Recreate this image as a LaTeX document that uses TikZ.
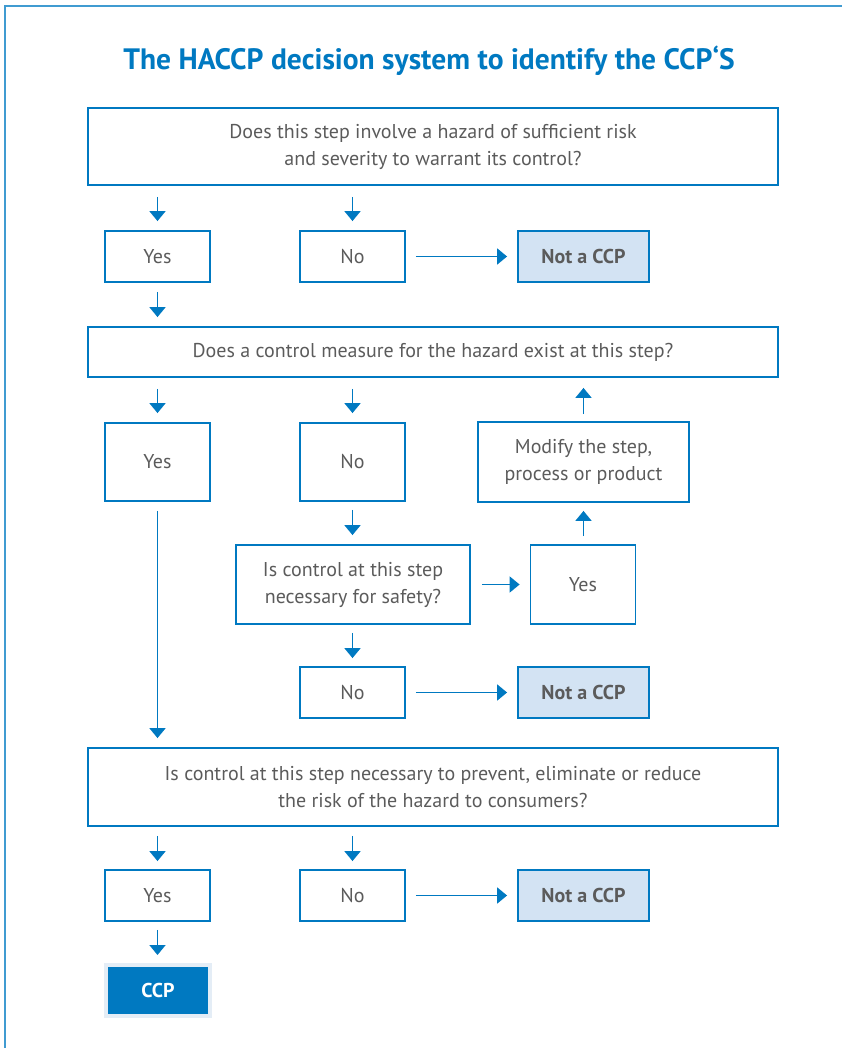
\documentclass[tikz,border=0pt]{standalone}
\usepackage{fontspec}
\setmainfont{PT Sans}
\usetikzlibrary{arrows.meta,positioning,calc}
\definecolor{haccpblue}{HTML}{0079C1}
\definecolor{haccpgray}{HTML}{5B5B5B}
\definecolor{notfill}{HTML}{D3E3F3}
\definecolor{ccpframe}{HTML}{E4EDF6}
\tikzstyle{qbox} = [draw=haccpblue,line width=1.8pt,text=haccpgray,align=center,inner sep=0pt,font=\fontsize{20}{27}\selectfont]
\tikzstyle{ans} = [qbox,minimum width=105pt]
\tikzstyle{notccp} = [qbox,fill=notfill,font=\fontsize{20}{27}\selectfont\bfseries,minimum width=131pt,minimum height=51pt]
\tikzstyle{ccpbox} = [draw=ccpframe,line width=4pt,fill=haccpblue,text=white,font=\fontsize{20}{27}\selectfont\bfseries,minimum width=104pt,minimum height=51pt]
\tikzstyle{flow} = [haccpblue,line width=1.8pt,-{Triangle[width=16pt,length=10pt]}]

\begin{document}
\begin{tikzpicture}[x=1pt,y=-1pt]
    \useasboundingbox (0,0) rectangle (842,1048);
    \draw [haccpblue!75,line width=2pt] (4.5,1048) -- (4.5,6.5) -- (842,6.5);
    \node [text=haccpblue,font=\fontsize{29.5}{34}\selectfont\bfseries] (title) at (429,61) {The HACCP decision system to identify the CCP‘S};

    % first question
    \node [qbox,minimum width=690pt,minimum height=77pt] (q1) at (433,146.5) {Does this step involve a hazard of sufficient risk\\and severity to warrant its control?};
    \node [ans,minimum height=51pt] (yes1) at (157.5,256.5) {Yes};
    \node [ans,minimum height=51pt] (no1) at (352.5,256.5) {No};
    \node [notccp] (not1) at (583.5,256.5) {Not a CCP};
    \draw [flow,shorten <=11pt,shorten >=9pt] (yes1 |- q1.south) -- (yes1.north);
    \draw [flow,shorten <=11pt,shorten >=9pt] (no1 |- q1.south) -- (no1.north);
    \draw [flow,shorten <=10pt,shorten >=10pt] (no1) -- (not1);

    % second question
    \node [qbox,minimum width=690pt,minimum height=50pt] (q2) at (433,352) {Does a control measure for the hazard exist at this step?};
    \draw [flow,shorten <=9pt,shorten >=9pt] (yes1.south) -- (yes1 |- q2.north);
    \node [ans,minimum height=78pt] (yes2) at (157.5,462) {Yes};
    \node [ans,minimum height=78pt] (no2) at (352.5,462) {No};
    \node [qbox,minimum width=211pt,minimum height=80pt] (modify) at (583.5,462) {Modify the step,\\process or product};
    \draw [flow,shorten <=11pt,shorten >=9pt] (yes2 |- q2.south) -- (yes2.north);
    \draw [flow,shorten <=11pt,shorten >=9pt] (no2 |- q2.south) -- (no2.north);
    \draw [flow,shorten <=7pt,shorten >=10pt] (modify.north) -- (modify |- q2.south);

    % safety question
    \node [qbox,minimum width=234pt,minimum height=79pt] (q3) at (353,584.5) {Is control at this step\\necessary for safety?};
    \node [ans,minimum height=79pt] (yes3) at (583,584.5) {Yes};
    \draw [flow,shorten <=8pt,shorten >=9pt] (no2.south) -- (no2 |- q3.north);
    \draw [flow,shorten <=11pt,shorten >=10pt] (q3) -- (yes3);
    \draw [flow,shorten <=8pt,shorten >=8pt] (yes3.north -| modify) -- (modify.south);
    \node [ans,minimum height=51pt] (no3) at (352.5,692.5) {No};
    \node [notccp] (not2) at (583.5,692.5) {Not a CCP};
    \draw [flow,shorten <=8pt,shorten >=8pt] (no3 |- q3.south) -- (no3.north);
    \draw [flow,shorten <=10pt,shorten >=10pt] (no3) -- (not2);

    % last question
    \node [qbox,minimum width=690pt,minimum height=78pt] (q4) at (433,787) {Is control at this step necessary to prevent, eliminate or reduce\\the risk of the hazard to consumers?};
    \draw [flow,shorten <=9pt,shorten >=9pt] (yes2.south) -- (yes2 |- q4.north);
    \node [ans,minimum height=51pt] (yes4) at (157.5,895.5) {Yes};
    \node [ans,minimum height=51pt] (no4) at (352.5,895.5) {No};
    \node [notccp] (not3) at (583.5,895.5) {Not a CCP};
    \draw [flow,shorten <=9pt,shorten >=8pt] (yes4 |- q4.south) -- (yes4.north);
    \draw [flow,shorten <=9pt,shorten >=8pt] (no4 |- q4.south) -- (no4.north);
    \draw [flow,shorten <=10pt,shorten >=10pt] (no4) -- (not3);

    \node [ccpbox] (ccp) at (158,990.5) {CCP};
    \draw [flow,shorten <=8pt,shorten >=8pt] (yes4.south) -- (yes4 |- ccp.north);
\end{tikzpicture}
\end{document}
